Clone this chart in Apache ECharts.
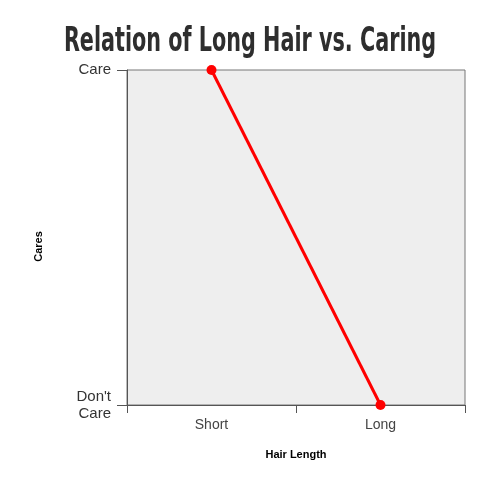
<!DOCTYPE html>
<html><head><meta charset="utf-8">
<script src="https://cdn.jsdelivr.net/npm/echarts@6/dist/echarts.min.js"></script>
<style>html,body{margin:0;padding:0;background:#fff}#c{width:500px;height:481px}</style>
</head><body><div id="c"></div>
<script>
const categories = ['Short', 'Long'];
const careValues = [1, 0];
const yTickLabels = {0: "Don't\nCare", 1: 'Care'};
const titleText = 'Relation of Long Hair vs. Caring';

const chart = echarts.init(document.getElementById('c'));
chart.setOption({
  animation: false,
  graphic: [{
    type: 'text', x: 250, y: 25,
    style: {text: titleText, font: "bold 34px 'DejaVu Sans', sans-serif", fill: '#2e2e2e', align: 'center', verticalAlign: 'top'},
    scaleX: 0.61
  }],
  grid: {left: 127, right: 35, top: 70, bottom: 76, show: true, backgroundColor: '#eeeeee', borderColor: '#777', borderWidth: 1},
  xAxis: {
    type: 'category', data: categories, boundaryGap: true,
    name: 'Hair Length', nameLocation: 'middle', nameGap: 44,
    nameTextStyle: {fontFamily: "'Liberation Sans', Arial, sans-serif", fontWeight: 'bold', fontSize: 11, color: '#000'},
    axisLine: {lineStyle: {color: '#555', width: 1}},
    axisTick: {show: true, length: 8, lineStyle: {color: '#555'}},
    axisLabel: {fontFamily: "'Liberation Sans', Arial, sans-serif", fontSize: 14, color: '#444', margin: 13},
    splitLine: {show: false}
  },
  yAxis: {
    type: 'value', min: 0, max: 1, interval: 1,
    name: 'Cares', nameLocation: 'middle', nameGap: 83,
    nameTextStyle: {fontFamily: "'Liberation Sans', Arial, sans-serif", fontWeight: 'bold', fontSize: 11, color: '#000', padding: [0, 18, 0, 0]},
    axisLine: {show: true, lineStyle: {color: '#555', width: 1}},
    axisTick: {show: true, length: 10, lineStyle: {color: '#555'}},
    axisLabel: {fontFamily: "'Liberation Sans', Arial, sans-serif", fontSize: 15, color: '#333', margin: 16, lineHeight: 17,
      formatter: v => yTickLabels[v] || ''},
    splitLine: {show: false}
  },
  series: [{
    type: 'line', data: careValues,
    lineStyle: {color: '#ff0000', width: 3},
    itemStyle: {color: '#ff0000'},
    symbol: 'circle', symbolSize: 10,
    clip: false
  }]
});
</script></body></html>
